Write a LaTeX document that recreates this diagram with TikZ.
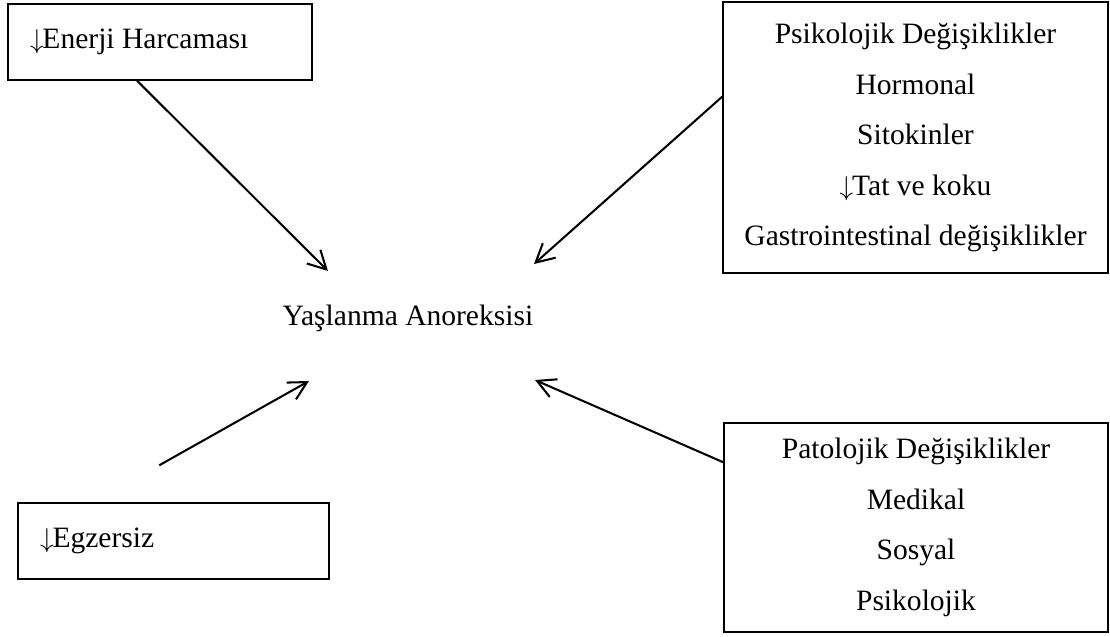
\documentclass[tikz,border=0pt]{standalone}
\usepackage{fontspec}
\setmainfont{Liberation Serif}
\usetikzlibrary{arrows.meta,calc}
\newcommand{\pxu}{0.44pt}
\newcommand{\dn}{$\downarrow$\kern-0.5pt}

\begin{document}
\begin{tikzpicture}[x=\pxu, y=-\pxu,
    cause/.style={rectangle, draw=black, line width=0.65pt, inner sep=0pt,
                  font=\fontsize{13}{22.2}\selectfont},
    single/.style={cause, align=flush left, inner xsep=22*\pxu, text width=(#1-44)*\pxu,
                   minimum height=76*\pxu},
    multi/.style={cause, align=center, minimum width=#1*\pxu},
    centre/.style={font=\fontsize{13}{15}\selectfont},
    link/.style={line width=0.9pt, -{Straight Barb[length=8pt, width=8.5pt, line width=0.9pt]}}
]
    \useasboundingbox (0,0) rectangle (1110,636);

    \node[centre] (anorexia) at (408,318) {Yaşlanma Anoreksisi};

    \node[single=304] (energy) at (160,42) {\dn Enerji Harcaması};
    \node[single=311] (exercise) at (173.5,541) {\dn Egzersiz};

    \node[multi=385, minimum height=271*\pxu] (psych) at (915.5,137.5)
        {Psikolojik Değişiklikler\\ Hormonal\\ Sitokinler\\ \dn Tat ve koku\\ Gastrointestinal değişiklikler};
    \node[multi=384, minimum height=209*\pxu] (patho) at (916,527.5)
        {Patolojik Değişiklikler\\ Medikal\\ Sosyal\\ Psikolojik};

    % arrow ends around the central label
    \coordinate (tipA) at (328,271);
    \coordinate (tipB) at (534,264);
    \coordinate (tipC) at (309,381);
    \coordinate (tipD) at (535,380);
    \coordinate (exStart) at ($(exercise.north west)+(142,-37)$);

    \draw[link] ($(energy.south west)!0.425!(energy.south east)$) -- (tipA);
    \draw[link] ($(psych.north west)!0.35!(psych.south west)$) -- (tipB);
    \draw[link] (exStart) -- (tipC);
    \draw[link] ($(patho.north west)!0.19!(patho.south west)$) -- (tipD);
\end{tikzpicture}
\end{document}
